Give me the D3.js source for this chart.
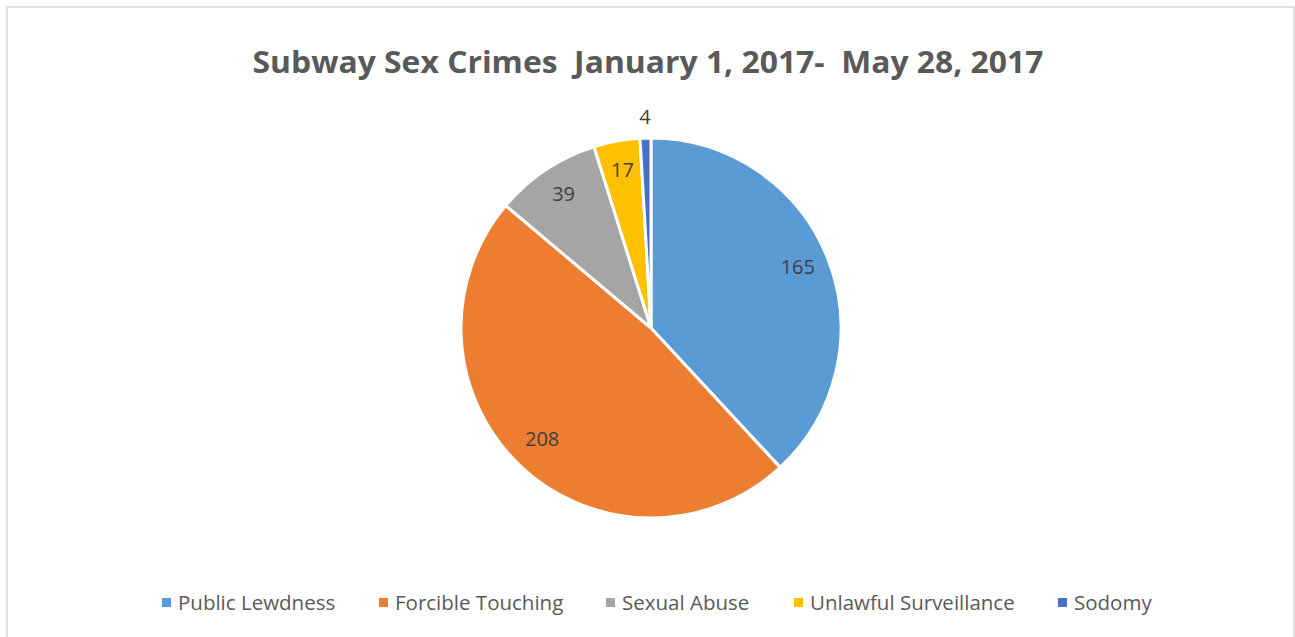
<!DOCTYPE html>
<html>
<head>
<meta charset="utf-8">
<script src="https://cdn.jsdelivr.net/npm/d3@7"></script>
<style>
  html, body { margin: 0; padding: 0; background: #fff; }
  text { font-family: "Open Sans", "Liberation Sans", sans-serif; white-space: pre; }
</style>
</head>
<body>
<div id="chart"></div>
<script>
const categories = ["Public Lewdness", "Forcible Touching", "Sexual Abuse", "Unlawful Surveillance", "Sodomy"];
const values = [165, 208, 39, 17, 4];
const colors = ["#5b9bd5", "#ed7d31", "#a5a5a5", "#ffc000", "#4472c4"];
const title = "Subway Sex Crimes  January 1, 2017-  May 28, 2017";

const width = 1295, height = 637;
const cx = 651, cy = 328, radius = 190;

const svg = d3.select("#chart").append("svg")
    .attr("width", width)
    .attr("height", height);

// chart area border
svg.append("rect")
    .attr("x", 7).attr("y", 7)
    .attr("width", 1287).attr("height", 640)
    .attr("fill", "none")
    .attr("stroke", "#d9d9d9")
    .attr("stroke-width", 1.5);

svg.append("text")
    .attr("x", 648).attr("y", 73)
    .attr("text-anchor", "middle")
    .attr("font-size", 30)
    .attr("font-weight", "bold")
    .attr("fill", "#595959")
    .attr("textLength", 791)
    .attr("lengthAdjust", "spacingAndGlyphs")
    .text(title);

const data = categories.map((c, i) => ({ label: c, value: values[i], color: colors[i] }));
const total = d3.sum(values);

const pie = d3.pie().sort(null).value(d => d.value);
const arc = d3.arc().innerRadius(0).outerRadius(radius);
const arcs = pie(data);

const g = svg.append("g").attr("transform", `translate(${cx},${cy})`);

g.selectAll("path")
    .data(arcs)
    .enter()
    .append("path")
    .attr("d", arc)
    .attr("fill", d => d.data.color)
    .attr("stroke", "#fff")
    .attr("stroke-width", 3);

const inLabel = d3.arc().innerRadius(radius * 0.83).outerRadius(radius * 0.83);
const outLabel = d3.arc().innerRadius(radius + 18).outerRadius(radius + 18);

g.selectAll("text.lbl")
    .data(arcs)
    .enter()
    .append("text")
    .attr("class", "lbl")
    .attr("transform", d => {
        const a = d.data.value / total < 0.02 ? outLabel : inLabel;
        const [x, y] = a.centroid(d);
        return `translate(${x},${y - 3})`;
    })
    .attr("text-anchor", "middle")
    .attr("dy", "0.35em")
    .attr("font-size", 20)
    .attr("fill", "#404040")
    .text(d => d.data.value);

// legend
const legendX = [163, 380, 607, 795, 1059];
const legend = svg.append("g");
const items = legend.selectAll("g")
    .data(data)
    .enter()
    .append("g")
    .attr("transform", (d, i) => `translate(${legendX[i]},603)`);

items.append("rect")
    .attr("x", -1).attr("y", -5)
    .attr("width", 9).attr("height", 9)
    .attr("fill", d => d.color);

items.append("text")
    .attr("x", 15)
    .attr("dy", "0.35em")
    .attr("font-size", 20.5)
    .attr("fill", "#595959")
    .text(d => d.label);
</script>
</body>
</html>
